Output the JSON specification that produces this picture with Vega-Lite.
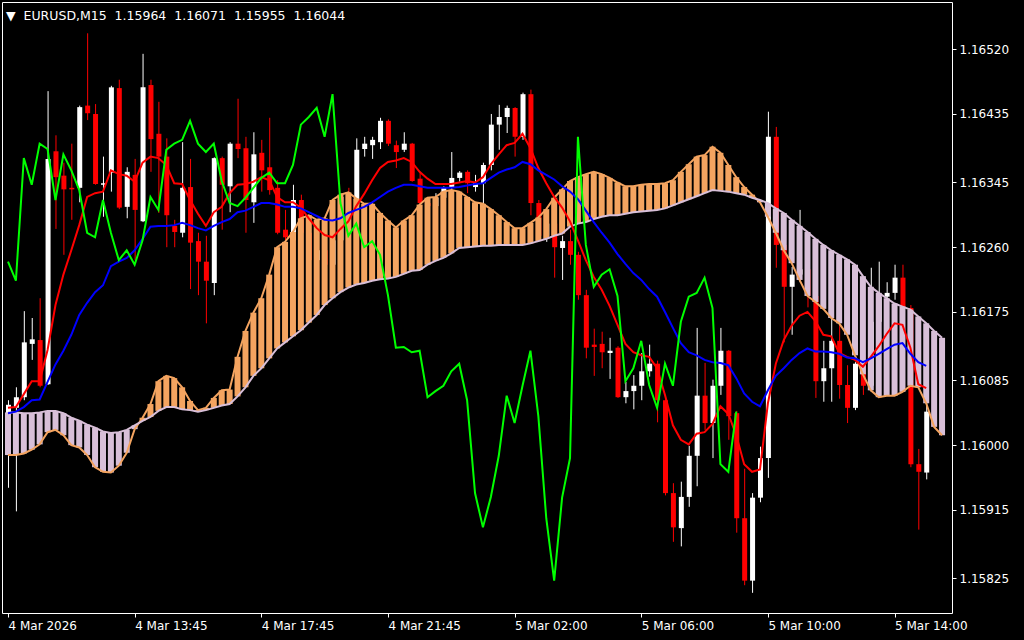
{
"$schema":"https://vega.github.io/schema/vega-lite/v6.json",
"width":950,"height":611,"autosize":"none",
"padding":{"left":2,"top":2,"right":72,"bottom":27},
"background":"#000000",
"config":{"view":{"stroke":"#ffffff","strokeWidth":1},"axis":{"grid":false,"domain":false,"tickColor":"#ffffff","labelColor":"#ffffff","labelFont":"DejaVu Sans","labelFontSize":12,"tickSize":4}},
"title":{"text":"▼\u00a0\u00a0EURUSD,M15\u00a0\u00a01.15964\u00a0 1.16071\u00a0 1.15955\u00a0 1.16044","anchor":"start","frame":"group","color":"#ffffff","font":"DejaVu Sans","fontSize":12.5,"fontWeight":"normal","offset":-20,"dx":4},
"data":{"values":[
{"i":0,"o":1.15987,"h":1.16059,"l":1.15944,"c":1.16053,"t":1.16049,"k":1.16042,"v":1.16241,"a":1.15987,"b":1.16043},
{"i":1,"o":1.16049,"h":1.16076,"l":1.15913,"c":1.16063,"t":1.16050,"k":1.16044,"v":1.16216,"a":1.15987,"b":1.16043},
{"i":2,"o":1.16063,"h":1.16176,"l":1.16059,"c":1.16135,"t":1.16067,"k":1.16050,"v":1.16377,"a":1.15989,"b":1.16042},
{"i":3,"o":1.16133,"h":1.16167,"l":1.16112,"c":1.16139,"t":1.16084,"k":1.16059,"v":1.16342,"a":1.15994,"b":1.16042},
{"i":4,"o":1.16138,"h":1.16193,"l":1.16076,"c":1.16078,"t":1.16084,"k":1.16060,"v":1.16396,"a":1.16001,"b":1.16043},
{"i":5,"o":1.16080,"h":1.16465,"l":1.16079,"c":1.16376,"t":1.16125,"k":1.16083,"v":1.16389,"a":1.16017,"b":1.16045},
{"i":6,"o":1.16386,"h":1.16407,"l":1.16284,"c":1.16352,"t":1.16184,"k":1.16106,"v":1.16322,"a":1.16020,"b":1.16045},
{"i":7,"o":1.16354,"h":1.16371,"l":1.16250,"c":1.16336,"t":1.16224,"k":1.16124,"v":1.16382,"a":1.16013,"b":1.16042},
{"i":8,"o":1.16338,"h":1.16396,"l":1.16296,"c":1.16336,"t":1.16256,"k":1.16145,"v":1.16361,"a":1.16000,"b":1.16036},
{"i":9,"o":1.16338,"h":1.16446,"l":1.16319,"c":1.16444,"t":1.16289,"k":1.16171,"v":1.16335,"a":1.15997,"b":1.16032},
{"i":10,"o":1.16446,"h":1.16541,"l":1.16427,"c":1.16436,"t":1.16326,"k":1.16187,"v":1.16279,"a":1.15987,"b":1.16027},
{"i":11,"o":1.16435,"h":1.16448,"l":1.16342,"c":1.16343,"t":1.16331,"k":1.16201,"v":1.16273,"a":1.15971,"b":1.16023},
{"i":12,"o":1.16342,"h":1.16379,"l":1.16300,"c":1.16344,"t":1.16333,"k":1.16210,"v":1.16322,"a":1.15965,"b":1.16018},
{"i":13,"o":1.16358,"h":1.16472,"l":1.16333,"c":1.16470,"t":1.16361,"k":1.16235,"v":1.16279,"a":1.15964,"b":1.16016},
{"i":14,"o":1.16469,"h":1.16480,"l":1.16310,"c":1.16312,"t":1.16356,"k":1.16241,"v":1.16243,"a":1.15973,"b":1.16017},
{"i":15,"o":1.16313,"h":1.16365,"l":1.16298,"c":1.16359,"t":1.16354,"k":1.16246,"v":1.16256,"a":1.15990,"b":1.16020},
{"i":16,"o":1.16355,"h":1.16376,"l":1.16243,"c":1.16309,"t":1.16346,"k":1.16256,"v":1.16237,"a":1.16021,"b":1.16026},
{"i":17,"o":1.16294,"h":1.16514,"l":1.16293,"c":1.16470,"t":1.16371,"k":1.16271,"v":1.16269,"a":1.16036,"b":1.16032},
{"i":18,"o":1.16473,"h":1.16480,"l":1.16359,"c":1.16402,"t":1.16379,"k":1.16287,"v":1.16326,"a":1.16054,"b":1.16037},
{"i":19,"o":1.16409,"h":1.16451,"l":1.16305,"c":1.16379,"t":1.16377,"k":1.16288,"v":1.16309,"a":1.16084,"b":1.16045},
{"i":20,"o":1.16379,"h":1.16403,"l":1.16260,"c":1.16302,"t":1.16368,"k":1.16288,"v":1.16388,"a":1.16091,"b":1.16050},
{"i":21,"o":1.16288,"h":1.16296,"l":1.16260,"c":1.16280,"t":1.16344,"k":1.16289,"v":1.16396,"a":1.16088,"b":1.16050},
{"i":22,"o":1.16279,"h":1.16398,"l":1.16273,"c":1.16338,"t":1.16343,"k":1.16292,"v":1.16401,"a":1.16076,"b":1.16047},
{"i":23,"o":1.16339,"h":1.16376,"l":1.16205,"c":1.16266,"t":1.16322,"k":1.16289,"v":1.16426,"a":1.16058,"b":1.16046},
{"i":24,"o":1.16268,"h":1.16279,"l":1.16197,"c":1.16241,"t":1.16304,"k":1.16285,"v":1.16396,"a":1.16046,"b":1.16044},
{"i":25,"o":1.16241,"h":1.16275,"l":1.16160,"c":1.16216,"t":1.16288,"k":1.16282,"v":1.16385,"a":1.16049,"b":1.16046},
{"i":26,"o":1.16213,"h":1.16378,"l":1.16197,"c":1.16377,"t":1.16306,"k":1.16288,"v":1.16396,"a":1.16062,"b":1.16049},
{"i":27,"o":1.16377,"h":1.16379,"l":1.16283,"c":1.16342,"t":1.16313,"k":1.16293,"v":1.16347,"a":1.16072,"b":1.16052},
{"i":28,"o":1.16340,"h":1.16398,"l":1.16306,"c":1.16396,"t":1.16331,"k":1.16297,"v":1.16318,"a":1.16073,"b":1.16054},
{"i":29,"o":1.16396,"h":1.16455,"l":1.16377,"c":1.16389,"t":1.16342,"k":1.16306,"v":1.16314,"a":1.16116,"b":1.16064},
{"i":30,"o":1.16390,"h":1.16405,"l":1.16279,"c":1.16322,"t":1.16343,"k":1.16308,"v":1.16325,"a":1.16150,"b":1.16076},
{"i":31,"o":1.16319,"h":1.16411,"l":1.16292,"c":1.16382,"t":1.16346,"k":1.16313,"v":1.16338,"a":1.16174,"b":1.16091},
{"i":32,"o":1.16384,"h":1.16401,"l":1.16333,"c":1.16361,"t":1.16352,"k":1.16318,"v":1.16351,"a":1.16193,"b":1.16101},
{"i":33,"o":1.16365,"h":1.16430,"l":1.16329,"c":1.16335,"t":1.16348,"k":1.16318,"v":1.16358,"a":1.16224,"b":1.16114},
{"i":34,"o":1.16338,"h":1.16348,"l":1.16277,"c":1.16279,"t":1.16326,"k":1.16316,"v":1.16344,"a":1.16260,"b":1.16127},
{"i":35,"o":1.16283,"h":1.16309,"l":1.16269,"c":1.16273,"t":1.16319,"k":1.16313,"v":1.16344,"a":1.16267,"b":1.16135},
{"i":36,"o":1.16269,"h":1.16342,"l":1.16264,"c":1.16322,"t":1.16319,"k":1.16313,"v":1.16368,"a":1.16280,"b":1.16143},
{"i":37,"o":1.16322,"h":1.16329,"l":1.16272,"c":1.16279,"t":1.16312,"k":1.16311,"v":1.16421,"a":1.16298,"b":1.16151},
{"i":38,"o":1.16279,"h":1.16285,"l":1.16233,"c":1.16243,"t":1.16298,"k":1.16306,"v":1.16431,"a":1.16302,"b":1.16161},
{"i":39,"o":1.16243,"h":1.16263,"l":1.16235,"c":1.16256,"t":1.16285,"k":1.16301,"v":1.16443,"a":1.16296,"b":1.16171},
{"i":40,"o":1.16256,"h":1.16262,"l":1.16227,"c":1.16237,"t":1.16276,"k":1.16296,"v":1.16405,"a":1.16298,"b":1.16184},
{"i":41,"o":1.16237,"h":1.16275,"l":1.16233,"c":1.16269,"t":1.16273,"k":1.16295,"v":1.16461,"a":1.16322,"b":1.16193},
{"i":42,"o":1.16269,"h":1.16331,"l":1.16266,"c":1.16326,"t":1.16284,"k":1.16298,"v":1.16318,"a":1.16329,"b":1.16201},
{"i":43,"o":1.16326,"h":1.16338,"l":1.16304,"c":1.16309,"t":1.16294,"k":1.16305,"v":1.16275,"a":1.16332,"b":1.16207},
{"i":44,"o":1.16315,"h":1.16403,"l":1.16306,"c":1.16388,"t":1.16314,"k":1.16309,"v":1.16291,"a":1.16324,"b":1.16211},
{"i":45,"o":1.16389,"h":1.16405,"l":1.16379,"c":1.16396,"t":1.16330,"k":1.16313,"v":1.16260,"a":1.16317,"b":1.16213},
{"i":46,"o":1.16394,"h":1.16405,"l":1.16376,"c":1.16401,"t":1.16348,"k":1.16319,"v":1.16268,"a":1.16317,"b":1.16216},
{"i":47,"o":1.16398,"h":1.16430,"l":1.16389,"c":1.16426,"t":1.16364,"k":1.16326,"v":1.16250,"a":1.16305,"b":1.16218},
{"i":48,"o":1.16426,"h":1.16428,"l":1.16393,"c":1.16396,"t":1.16372,"k":1.16333,"v":1.16197,"a":1.16295,"b":1.16219},
{"i":49,"o":1.16394,"h":1.16400,"l":1.16364,"c":1.16385,"t":1.16374,"k":1.16338,"v":1.16128,"a":1.16286,"b":1.16221},
{"i":50,"o":1.16388,"h":1.16411,"l":1.16385,"c":1.16396,"t":1.16377,"k":1.16342,"v":1.16129,"a":1.16295,"b":1.16225},
{"i":51,"o":1.16396,"h":1.16397,"l":1.16346,"c":1.16347,"t":1.16372,"k":1.16342,"v":1.16122,"a":1.16302,"b":1.16229},
{"i":52,"o":1.16350,"h":1.16358,"l":1.16315,"c":1.16318,"t":1.16359,"k":1.16340,"v":1.16124,"a":1.16316,"b":1.16230},
{"i":53,"o":1.16318,"h":1.16325,"l":1.16306,"c":1.16314,"t":1.16350,"k":1.16338,"v":1.16063,"a":1.16325,"b":1.16237},
{"i":54,"o":1.16314,"h":1.16331,"l":1.16309,"c":1.16325,"t":1.16343,"k":1.16338,"v":1.16071,"a":1.16326,"b":1.16242},
{"i":55,"o":1.16325,"h":1.16340,"l":1.16322,"c":1.16338,"t":1.16343,"k":1.16338,"v":1.16078,"a":1.16333,"b":1.16246},
{"i":56,"o":1.16338,"h":1.16385,"l":1.16335,"c":1.16351,"t":1.16343,"k":1.16338,"v":1.16097,"a":1.16335,"b":1.16252},
{"i":57,"o":1.16351,"h":1.16360,"l":1.16346,"c":1.16358,"t":1.16345,"k":1.16339,"v":1.16107,"a":1.16333,"b":1.16259},
{"i":58,"o":1.16359,"h":1.16361,"l":1.16331,"c":1.16344,"t":1.16347,"k":1.16341,"v":1.16059,"a":1.16326,"b":1.16260},
{"i":59,"o":1.16339,"h":1.16355,"l":1.16333,"c":1.16344,"t":1.16345,"k":1.16343,"v":1.15937,"a":1.16319,"b":1.16261},
{"i":60,"o":1.16344,"h":1.16371,"l":1.16318,"c":1.16368,"t":1.16352,"k":1.16344,"v":1.15892,"a":1.16317,"b":1.16262},
{"i":61,"o":1.16368,"h":1.16435,"l":1.16361,"c":1.16421,"t":1.16369,"k":1.16351,"v":1.15932,"a":1.16310,"b":1.16262},
{"i":62,"o":1.16421,"h":1.16447,"l":1.16388,"c":1.16431,"t":1.16382,"k":1.16358,"v":1.15986,"a":1.16302,"b":1.16263},
{"i":63,"o":1.16431,"h":1.16446,"l":1.16410,"c":1.16443,"t":1.16394,"k":1.16362,"v":1.16065,"a":1.16293,"b":1.16263},
{"i":64,"o":1.16443,"h":1.16444,"l":1.16379,"c":1.16405,"t":1.16397,"k":1.16365,"v":1.16029,"a":1.16285,"b":1.16263},
{"i":65,"o":1.16405,"h":1.16463,"l":1.16401,"c":1.16461,"t":1.16409,"k":1.16372,"v":1.16078,"a":1.16285,"b":1.16263},
{"i":66,"o":1.16461,"h":1.16467,"l":1.16302,"c":1.16318,"t":1.16390,"k":1.16369,"v":1.16124,"a":1.16292,"b":1.16265},
{"i":67,"o":1.16318,"h":1.16322,"l":1.16269,"c":1.16275,"t":1.16364,"k":1.16361,"v":1.16038,"a":1.16299,"b":1.16268},
{"i":68,"o":1.16275,"h":1.16298,"l":1.16267,"c":1.16291,"t":1.16344,"k":1.16355,"v":1.15904,"a":1.16310,"b":1.16271},
{"i":69,"o":1.16291,"h":1.16295,"l":1.16220,"c":1.16260,"t":1.16326,"k":1.16349,"v":1.15822,"a":1.16325,"b":1.16275},
{"i":70,"o":1.16259,"h":1.16275,"l":1.16217,"c":1.16268,"t":1.16312,"k":1.16340,"v":1.15931,"a":1.16336,"b":1.16278},
{"i":71,"o":1.16268,"h":1.16283,"l":1.16237,"c":1.16250,"t":1.16294,"k":1.16333,"v":1.15983,"a":1.16347,"b":1.16287},
{"i":72,"o":1.16250,"h":1.16254,"l":1.16191,"c":1.16197,"t":1.16269,"k":1.16323,"v":1.16405,"a":1.16352,"b":1.16291},
{"i":73,"o":1.16197,"h":1.16204,"l":1.16114,"c":1.16128,"t":1.16243,"k":1.16308,"v":1.16263,"a":1.16356,"b":1.16293},
{"i":74,"o":1.16132,"h":1.16153,"l":1.16091,"c":1.16129,"t":1.16221,"k":1.16293,"v":1.16208,"a":1.16359,"b":1.16297},
{"i":75,"o":1.16133,"h":1.16149,"l":1.16101,"c":1.16122,"t":1.16204,"k":1.16279,"v":1.16224,"a":1.16356,"b":1.16300},
{"i":76,"o":1.16121,"h":1.16141,"l":1.16087,"c":1.16124,"t":1.16183,"k":1.16266,"v":1.16231,"a":1.16351,"b":1.16302},
{"i":77,"o":1.16128,"h":1.16130,"l":1.16062,"c":1.16063,"t":1.16158,"k":1.16251,"v":1.16196,"a":1.16345,"b":1.16302},
{"i":78,"o":1.16063,"h":1.16083,"l":1.16055,"c":1.16071,"t":1.16133,"k":1.16238,"v":1.16084,"a":1.16340,"b":1.16304},
{"i":79,"o":1.16071,"h":1.16092,"l":1.16047,"c":1.16078,"t":1.16122,"k":1.16226,"v":1.16101,"a":1.16340,"b":1.16306},
{"i":80,"o":1.16078,"h":1.16121,"l":1.16059,"c":1.16097,"t":1.16118,"k":1.16217,"v":1.16137,"a":1.16342,"b":1.16307},
{"i":81,"o":1.16097,"h":1.16132,"l":1.16090,"c":1.16107,"t":1.16116,"k":1.16205,"v":1.16079,"a":1.16343,"b":1.16308},
{"i":82,"o":1.16107,"h":1.16111,"l":1.16030,"c":1.16059,"t":1.16101,"k":1.16195,"v":1.16049,"a":1.16343,"b":1.16309},
{"i":83,"o":1.16059,"h":1.16060,"l":1.15934,"c":1.15937,"t":1.16066,"k":1.16175,"v":1.16107,"a":1.16344,"b":1.16311},
{"i":84,"o":1.15937,"h":1.15950,"l":1.15873,"c":1.15892,"t":1.16026,"k":1.16154,"v":1.16078,"a":1.16348,"b":1.16315},
{"i":85,"o":1.15891,"h":1.15952,"l":1.15867,"c":1.15932,"t":1.16007,"k":1.16134,"v":1.16162,"a":1.16359,"b":1.16319},
{"i":86,"o":1.15932,"h":1.15999,"l":1.15919,"c":1.15986,"t":1.16001,"k":1.16122,"v":1.16195,"a":1.16369,"b":1.16323},
{"i":87,"o":1.15986,"h":1.16154,"l":1.15946,"c":1.16065,"t":1.16015,"k":1.16118,"v":1.16200,"a":1.16379,"b":1.16327},
{"i":88,"o":1.16065,"h":1.16108,"l":1.16020,"c":1.16029,"t":1.16017,"k":1.16112,"v":1.16220,"a":1.16381,"b":1.16331},
{"i":89,"o":1.16029,"h":1.16086,"l":1.15983,"c":1.16078,"t":1.16028,"k":1.16109,"v":1.16180,"a":1.16392,"b":1.16335},
{"i":90,"o":1.16078,"h":1.16154,"l":1.16066,"c":1.16124,"t":1.16051,"k":1.16108,"v":1.15975,"a":1.16384,"b":1.16334},
{"i":91,"o":1.16124,"h":1.16125,"l":1.16007,"c":1.16038,"t":1.16041,"k":1.16105,"v":1.15965,"a":1.16368,"b":1.16333},
{"i":92,"o":1.16042,"h":1.16045,"l":1.15885,"c":1.15904,"t":1.16013,"k":1.16088,"v":1.16044,"a":1.16352,"b":1.16331},
{"i":93,"o":1.15904,"h":1.15969,"l":1.15816,"c":1.15822,"t":1.15975,"k":1.16068,"a":1.16339,"b":1.16329},
{"i":94,"o":1.15822,"h":1.15937,"l":1.15806,"c":1.15931,"t":1.15965,"k":1.16057,"a":1.16329,"b":1.16325},
{"i":95,"o":1.15931,"h":1.15998,"l":1.15925,"c":1.15983,"t":1.15968,"k":1.16051,"a":1.16319,"b":1.16322},
{"i":96,"o":1.15983,"h":1.16438,"l":1.15957,"c":1.16405,"t":1.16055,"k":1.16072,"a":1.16300,"b":1.16318},
{"i":97,"o":1.16405,"h":1.16418,"l":1.16233,"c":1.16263,"t":1.16107,"k":1.16091,"a":1.16279,"b":1.16311},
{"i":98,"o":1.16263,"h":1.16264,"l":1.16135,"c":1.16208,"t":1.16138,"k":1.16101,"a":1.16256,"b":1.16305},
{"i":99,"o":1.16208,"h":1.16234,"l":1.16145,"c":1.16224,"t":1.16157,"k":1.16112,"a":1.16239,"b":1.16296},
{"i":100,"o":1.16224,"h":1.16309,"l":1.16214,"c":1.16231,"t":1.16170,"k":1.16121,"a":1.16217,"b":1.16288},
{"i":101,"o":1.16231,"h":1.16233,"l":1.16181,"c":1.16196,"t":1.16175,"k":1.16127,"a":1.16196,"b":1.16280},
{"i":102,"o":1.16196,"h":1.16204,"l":1.16062,"c":1.16084,"t":1.16163,"k":1.16123,"a":1.16188,"b":1.16271},
{"i":103,"o":1.16084,"h":1.16137,"l":1.16057,"c":1.16101,"t":1.16145,"k":1.16123,"a":1.16179,"b":1.16263},
{"i":104,"o":1.16101,"h":1.16168,"l":1.16057,"c":1.16137,"t":1.16143,"k":1.16122,"a":1.16167,"b":1.16256},
{"i":105,"o":1.16137,"h":1.16158,"l":1.16061,"c":1.16079,"t":1.16121,"k":1.16120,"a":1.16160,"b":1.16250},
{"i":106,"o":1.16079,"h":1.16105,"l":1.16029,"c":1.16049,"t":1.16116,"k":1.16115,"a":1.16145,"b":1.16244},
{"i":107,"o":1.16049,"h":1.16109,"l":1.16046,"c":1.16107,"t":1.16112,"k":1.16114,"a":1.16118,"b":1.16237},
{"i":108,"o":1.16107,"h":1.16118,"l":1.16066,"c":1.16078,"t":1.16103,"k":1.16109,"a":1.16093,"b":1.16222},
{"i":109,"o":1.16078,"h":1.16233,"l":1.16070,"c":1.16162,"t":1.16116,"k":1.16114,"a":1.16072,"b":1.16208},
{"i":110,"o":1.16162,"h":1.16241,"l":1.16154,"c":1.16195,"t":1.16130,"k":1.16120,"a":1.16063,"b":1.16200},
{"i":111,"o":1.16195,"h":1.16214,"l":1.16184,"c":1.16200,"t":1.16146,"k":1.16126,"a":1.16065,"b":1.16193},
{"i":112,"o":1.16200,"h":1.16237,"l":1.16191,"c":1.16220,"t":1.16160,"k":1.16132,"a":1.16065,"b":1.16186},
{"i":113,"o":1.16220,"h":1.16237,"l":1.16171,"c":1.16180,"t":1.16158,"k":1.16134,"a":1.16070,"b":1.16182},
{"i":114,"o":1.16180,"h":1.16184,"l":1.15971,"c":1.15975,"t":1.16128,"k":1.16120,"a":1.16078,"b":1.16178},
{"i":115,"o":1.15975,"h":1.15995,"l":1.15889,"c":1.15965,"t":1.16080,"k":1.16109,"a":1.16076,"b":1.16169},
{"i":116,"o":1.15964,"h":1.16071,"l":1.15955,"c":1.16044,"t":1.16075,"k":1.16104,"a":1.16055,"b":1.16160},
{"i":117,"a":1.16024,"b":1.16150},
{"i":118,"a":1.16013,"b":1.16141}
]},
"encoding":{"x":{"field":"i","type":"quantitative","title":null,"scale":{"domain":[-0.125,118.625],"nice":false,"zero":false},
"axis":{"values":[0,16,32,48,64,80,96,112],"labelExpr":"['4 Mar 2026','4 Mar 13:45','4 Mar 17:45','4 Mar 21:45','5 Mar 02:00','5 Mar 06:00','5 Mar 10:00','5 Mar 14:00'][round(datum.value/16)]","labelAlign":"left","labelFlush":false,"labelOverlap":false,"labelBound":false,"labelPadding":3,"tickSize":4}}},
"layer":[
{"mark":{"type":"rule","strokeWidth":1,"xOffset":0.5},
 "encoding":{"y":{"field":"l","type":"quantitative","title":null,"scale":{"domain":[1.157795,1.165821],"nice":false,"zero":false},
   "axis":{"orient":"right","values":[1.15825,1.15915,1.16,1.16085,1.16175,1.1626,1.16345,1.16435,1.1652],"format":".5f","labelPadding":3,"tickSize":4,"labelOverlap":false,"labelBound":false,"labelFlush":false}},
  "y2":{"field":"h"},
  "color":{"condition":{"test":"datum.c >= datum.o","value":"#ffffff"},"value":"#ff0000"}}},
{"mark":{"type":"bar","width":5,"xOffset":0.5},
 "encoding":{"y":{"field":"o","type":"quantitative","title":null},"y2":{"field":"c"},
  "color":{"condition":{"test":"datum.c >= datum.o","value":"#ffffff"},"value":"#ff0000"}}},
{"mark":{"type":"bar","width":6},
 "encoding":{"y":{"field":"a","type":"quantitative","title":null},"y2":{"field":"b"},
  "color":{"condition":{"test":"datum.a >= datum.b","value":"#f4a460"},"value":"#d8bfd8"}}},
{"mark":{"type":"line","color":"#f4a460","strokeWidth":2},"encoding":{"y":{"field":"a","type":"quantitative","title":null}}},
{"mark":{"type":"line","color":"#d8bfd8","strokeWidth":2},"encoding":{"y":{"field":"b","type":"quantitative","title":null}}},
{"mark":{"type":"line","color":"#ff0000","strokeWidth":2},"encoding":{"y":{"field":"t","type":"quantitative","title":null}}},
{"mark":{"type":"line","color":"#0000ff","strokeWidth":2},"encoding":{"y":{"field":"k","type":"quantitative","title":null}}},
{"mark":{"type":"line","color":"#00ff00","strokeWidth":2},"encoding":{"y":{"field":"v","type":"quantitative","title":null}}},
{"data":{"values":[{"price":1.16044}]},
 "mark":{"type":"rect","color":"#ffffff"},
 "encoding":{"x":{"datum":118.875},"x2":{"datum":126.625},"y":{"datum":1.16055},"y2":{"datum":1.16033}}},
{"data":{"values":[{"price":1.16044}]},
 "mark":{"type":"text","color":"#000000","align":"left","baseline":"middle","font":"DejaVu Sans","fontSize":12},
 "encoding":{"x":{"datum":119.5},"y":{"field":"price","type":"quantitative","title":null},"text":{"field":"price","type":"quantitative","format":".5f"}}}
]
}
